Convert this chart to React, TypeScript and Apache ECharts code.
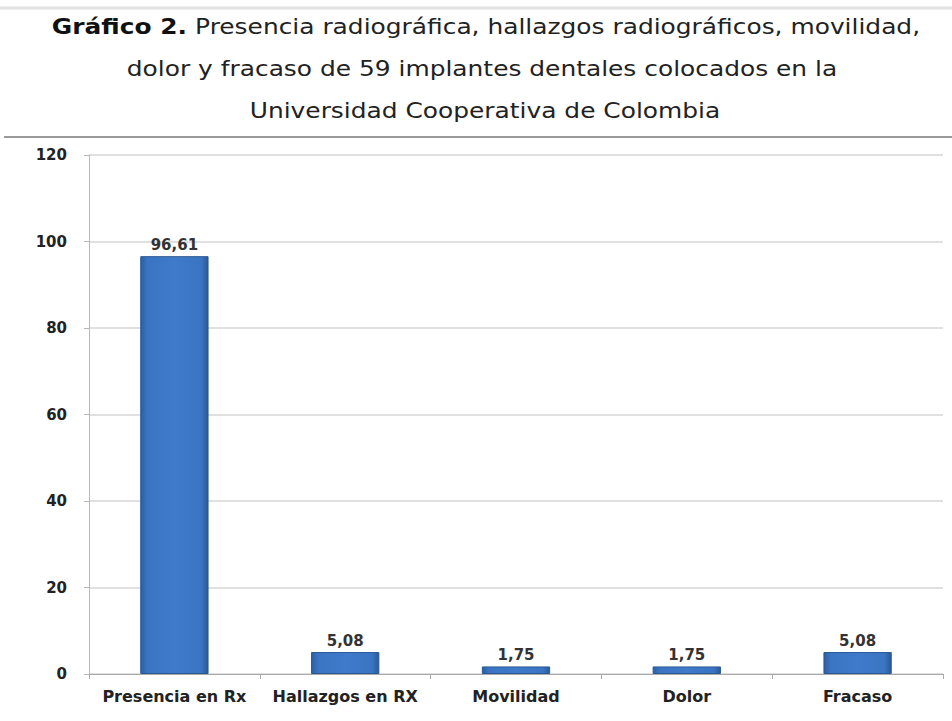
import React, { useEffect, useRef } from "react";
import * as echarts from "echarts";

const categories = ["Presencia en Rx", "Hallazgos en RX", "Movilidad", "Dolor", "Fracaso"];
const values = [96.61, 5.08, 1.75, 1.75, 5.08];
const yTicks = [0, 20, 40, 60, 80, 100, 120];
const titleBold = "Gráfico 2.";
const titleLines = [
  " Presencia radiográfica, hallazgos radiográficos, movilidad,",
  "dolor y fracaso de 59 implantes dentales colocados en la",
  "Universidad Cooperativa de Colombia",
];

export default function App() {
  const ref = useRef<HTMLDivElement>(null);
  useEffect(() => {
    if (!ref.current) return;
    const chart = echarts.init(ref.current, undefined, { renderer: "svg" });
    const fmt = (v: number) => v.toFixed(2).replace(".", ",");
    const tFont = "DejaVu Sans";
    const tSize = 21;
    const sx = 1.185;
    chart.setOption({
      animation: false,
      backgroundColor: "#ffffff",
      graphic: [
        { type: "line", shape: { x1: 0, y1: 8, x2: 952, y2: 8 }, style: { stroke: "#e2e2e2", lineWidth: 3 } },
        { type: "line", shape: { x1: 4, y1: 137, x2: 952, y2: 137 }, style: { stroke: "#9a9a9a", lineWidth: 2 } },
        {
          type: "text",
          x: 486,
          y: 27,
          scaleX: sx,
          style: {
            text: "{b|" + titleBold + "}{n|" + titleLines[0] + "}",
            align: "center",
            verticalAlign: "middle",
            rich: {
              b: { fontFamily: tFont, fontSize: tSize, fontWeight: "bold", fill: "#111111" },
              n: { fontFamily: tFont, fontSize: tSize, fill: "#222222" },
            },
          },
        },
        {
          type: "text",
          x: 482,
          y: 69,
          scaleX: sx,
          style: { text: titleLines[1], align: "center", verticalAlign: "middle", fontFamily: tFont, fontSize: tSize, fill: "#222222" },
        },
        {
          type: "text",
          x: 485,
          y: 111,
          scaleX: sx,
          style: { text: titleLines[2], align: "center", verticalAlign: "middle", fontFamily: tFont, fontSize: tSize, fill: "#222222" },
        },
      ],
      grid: { left: 89, right: 9, top: 155, bottom: 47 },
      xAxis: {
        type: "category",
        data: categories,
        axisLine: { lineStyle: { color: "#a8a8a8", width: 1 } },
        axisTick: { show: true, length: 5, lineStyle: { color: "#a8a8a8" } },
        axisLabel: {
          color: "#222",
          fontFamily: "DejaVu Sans",
          fontSize: 16,
          fontWeight: "bold",
          margin: 14,
          interval: 0,
        },
      },
      yAxis: {
        type: "value",
        min: 0,
        max: 120,
        interval: 20,
        axisLine: { show: true, lineStyle: { color: "#b8b8b8" } },
        axisTick: { show: true, length: 5, lineStyle: { color: "#b8b8b8" } },
        splitLine: { lineStyle: { color: "#d6d6d6", width: 1.5 } },
        axisLabel: {
          color: "#222",
          fontFamily: "DejaVu Sans",
          fontSize: 15,
          fontWeight: "bold",
          margin: 22,
          formatter: (v: number) => (yTicks.includes(v) ? String(v) : ""),
        },
      },
      series: [
        {
          type: "bar",
          data: values,
          barWidth: "40%",
          itemStyle: {
            color: new echarts.graphic.LinearGradient(0, 0, 1, 0, [
              { offset: 0, color: "#2c5f9e" },
              { offset: 0.1, color: "#3a74c2" },
              { offset: 0.5, color: "#3f7acb" },
              { offset: 0.9, color: "#3a74c2" },
              { offset: 1, color: "#2a5a96" },
            ]),
            borderColor: "#2a5a96",
            borderWidth: 1,
          },
          label: {
            show: true,
            position: "top",
            distance: 4,
            formatter: (p: any) => fmt(p.value),
            color: "#333",
            fontFamily: "DejaVu Sans",
            fontSize: 15,
            fontWeight: "bold",
          },
        },
      ],
    });
    return () => chart.dispose();
  }, []);
  return <div ref={ref} style={{ position: "fixed", left: 0, top: 0, width: 952, height: 721 }} />;
}
